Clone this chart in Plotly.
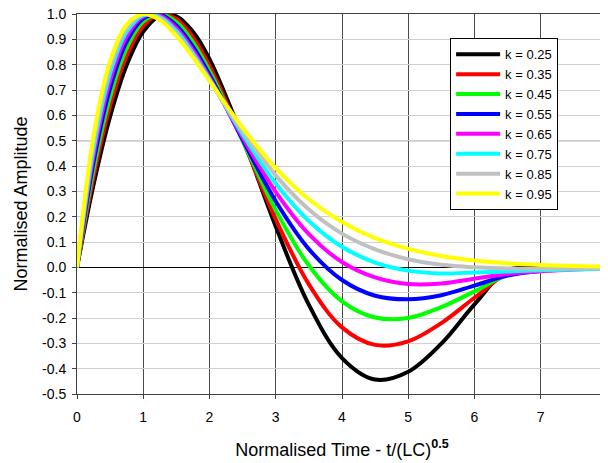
import plotly.graph_objects as go

# Normalised time samples
t_vals = [0, 0.25, 0.5, 0.75, 1.0, 1.25, 1.5, 1.75, 2.0, 2.5, 3.0, 3.5, 4.0,
          4.5, 5.0, 5.5, 6.0, 6.5, 7.0, 7.5, 8.0]

# Normalised amplitude for each k
k025 = [0, 0.327, 0.596, 0.799, 0.931, 0.993, 0.991, 0.930, 0.822, 0.512, 0.161,
        -0.148, -0.358, -0.443, -0.412, -0.301, -0.146, -0.012, 0.0, 0.0, 0.0]
k035 = [0, 0.357, 0.637, 0.835, 0.953, 0.999, 0.980, 0.908, 0.796, 0.502, 0.190,
        -0.067, -0.237, -0.306, -0.292, -0.220, -0.120, -0.025, -0.008, 0.0, 0.0]
k045 = [0, 0.386, 0.673, 0.865, 0.970, 1.000, 0.968, 0.889, 0.776, 0.500, 0.226,
        0.007, -0.134, -0.198, -0.200, -0.157, -0.095, -0.030, -0.010, -0.003, 0.0]
k055 = [0, 0.415, 0.707, 0.891, 0.982, 0.998, 0.955, 0.871, 0.760, 0.504, 0.261,
        0.072, -0.050, -0.112, -0.126, -0.110, -0.072, -0.032, -0.014, -0.005, -0.002]
k065 = [0, 0.442, 0.738, 0.912, 0.990, 0.994, 0.944, 0.857, 0.749, 0.513, 0.298,
        0.131, 0.021, -0.040, -0.066, -0.064, -0.045, -0.026, -0.015, -0.009, -0.004]
k075 = [0, 0.468, 0.766, 0.930, 0.995, 0.988, 0.933, 0.845, 0.742, 0.525, 0.331,
        0.183, 0.081, 0.019, -0.013, -0.024, -0.020, -0.016, -0.012, -0.009, -0.006]
k085 = [0, 0.494, 0.791, 0.946, 0.999, 0.983, 0.923, 0.837, 0.738, 0.537, 0.363,
        0.228, 0.133, 0.071, 0.032, 0.010, 0.000, -0.005, -0.006, -0.005, -0.004]
k095 = [0, 0.518, 0.814, 0.958, 1.000, 0.977, 0.914, 0.830, 0.736, 0.551, 0.392,
        0.269, 0.179, 0.115, 0.073, 0.045, 0.027, 0.016, 0.009, 0.005, 0.003]

series_names = ["k = 0.25", "k = 0.35", "k = 0.45", "k = 0.55",
                "k = 0.65", "k = 0.75", "k = 0.85", "k = 0.95"]
series_values = [k025, k035, k045, k055, k065, k075, k085, k095]
series_colors = ["#000000", "#FF0000", "#00FF00", "#0000FF",
                 "#FF00FF", "#00FFFF", "#C0C0C0", "#FFFF00"]

x_ticks = [0, 1, 2, 3, 4, 5, 6, 7, 8]
y_ticks = [-0.5, -0.4, -0.3, -0.2, -0.1, 0.0, 0.1, 0.2, 0.3, 0.4, 0.5,
           0.6, 0.7, 0.8, 0.9, 1.0]
y_ticktext = ["%.1f" % v for v in y_ticks]
major_y = 0.5

FONT = "Liberation Sans, Arial, sans-serif"

fig = go.Figure()
for name, vals, col in zip(series_names, series_values, series_colors):
    fig.add_trace(go.Scatter(
        x=t_vals, y=vals, mode="lines", name=name,
        line=dict(color=col, width=4, shape="spline", smoothing=1.0),
    ))

# The page body has an 8px margin, so the figure is sized to fit the window.
fig.update_layout(
    width=600, height=455,
    margin=dict(l=69, r=1, t=6, b=69, autoexpand=False),
    paper_bgcolor="white", plot_bgcolor="white",
    font=dict(family=FONT, color="black"),
    showlegend=True,
    legend=dict(
        x=0.704, y=0.936, xanchor="left", yanchor="top",
        bgcolor="white", bordercolor="black", borderwidth=1,
        font=dict(family=FONT, size=13, color="black"),
        tracegroupgap=0, itemwidth=44,
    ),
    xaxis=dict(
        range=[0, 8], tickvals=x_ticks, ticktext=[str(v) for v in x_ticks],
        showgrid=True, gridcolor="#4a4a4a", gridwidth=1,
        showline=True, linecolor="#404040", linewidth=1, mirror=True,
        ticks="outside", ticklen=4, tickcolor="#404040",
        tickfont=dict(family=FONT, size=14, color="black"),
        ticklabelstandoff=6, ticklabeloverflow="allow",
        zeroline=False, automargin=False,
        title=dict(text="Normalised Time - t/(LC)<sup><b>0.5</b></sup>",
                   font=dict(family=FONT, size=18, color="black"), standoff=19),
    ),
    yaxis=dict(
        range=[-0.5, 1.0], tickvals=y_ticks, ticktext=y_ticktext,
        showgrid=True, gridcolor="#d0d0d0", gridwidth=1,
        showline=True, linecolor="#404040", linewidth=1, mirror=True,
        ticks="outside", ticklen=4, tickcolor="#404040",
        tickfont=dict(family=FONT, size=14, color="black"),
        ticklabelstandoff=3, ticklabeloverflow="allow",
        zeroline=True, zerolinecolor="black", zerolinewidth=1,
        automargin=False,
        title=dict(text="Normalised Amplitude",
                   font=dict(family=FONT, size=18, color="black"), standoff=9),
    ),
    shapes=[dict(type="line", xref="paper", x0=0, x1=1, yref="y",
                 y0=major_y, y1=major_y, line=dict(color="black", width=1),
                 layer="below")],
)

fig.write_html("out.html")
